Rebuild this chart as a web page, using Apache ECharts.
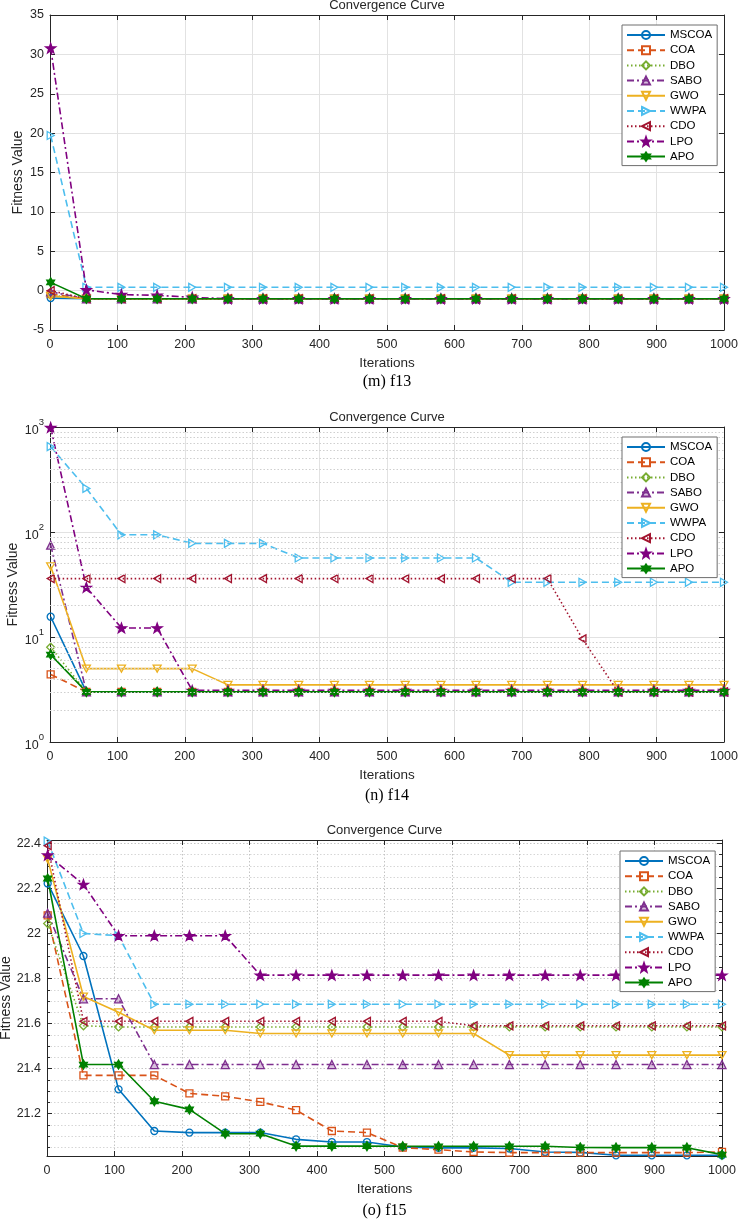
<!DOCTYPE html>
<html>
<head>
<meta charset="utf-8">
<title>Convergence Curve</title>
<script src="https://cdn.jsdelivr.net/npm/echarts@6/dist/echarts.min.js"></script>
<style>
    html, body { margin: 0; padding: 0; background: #fff; }
    #chart { width: 738px; height: 1221px; }
</style>
</head>
<body>
<div id="chart"></div>
<script>
// iteration numbers where the curves are sampled (markers)
const iterations = [1, 54, 106, 159, 211, 264, 316, 369, 422, 474, 527, 580, 632, 685, 738, 790, 843, 896, 948, 1000];
const algorithms = ['MSCOA', 'COA', 'DBO', 'SABO', 'GWO', 'WWPA', 'CDO', 'LPO', 'APO'];

// (m) f13
const f13MSCOA = [-0.95, -1.03, -1.03, -1.03, -1.03, -1.03, -1.03, -1.03, -1.03, -1.03, -1.03, -1.03, -1.03, -1.03, -1.03, -1.03, -1.03, -1.03, -1.03, -1.03];
const f13COA = [-0.45, -1.03, -1.03, -1.03, -1.03, -1.03, -1.03, -1.03, -1.03, -1.03, -1.03, -1.03, -1.03, -1.03, -1.03, -1.03, -1.03, -1.03, -1.03, -1.03];
const f13DBO = [-0.6, -1.03, -1.03, -1.03, -1.03, -1.03, -1.03, -1.03, -1.03, -1.03, -1.03, -1.03, -1.03, -1.03, -1.03, -1.03, -1.03, -1.03, -1.03, -1.03];
const f13SABO = [-0.15, -1.03, -1.03, -1.03, -1.03, -1.03, -1.03, -1.03, -1.03, -1.03, -1.03, -1.03, -1.03, -1.03, -1.03, -1.03, -1.03, -1.03, -1.03, -1.03];
const f13GWO = [-0.7, -1.03, -1.03, -1.03, -1.03, -1.03, -1.03, -1.03, -1.03, -1.03, -1.03, -1.03, -1.03, -1.03, -1.03, -1.03, -1.03, -1.03, -1.03, -1.03];
const f13WWPA = [19.7, 0.42, 0.42, 0.42, 0.42, 0.42, 0.42, 0.42, 0.42, 0.42, 0.42, 0.42, 0.42, 0.42, 0.42, 0.42, 0.42, 0.42, 0.42, 0.42];
const f13CDO = [0.0, -1.03, -1.03, -1.03, -1.03, -1.03, -1.03, -1.03, -1.03, -1.03, -1.03, -1.03, -1.03, -1.03, -1.03, -1.03, -1.03, -1.03, -1.03, -1.03];
const f13LPO = [30.8, 0.1, -0.5, -0.6, -0.85, -1.03, -1.03, -1.03, -1.03, -1.03, -1.03, -1.03, -1.03, -1.03, -1.03, -1.03, -1.03, -1.03, -1.03, -1.03];
const f13APO = [1.05, -1.03, -1.03, -1.03, -1.03, -1.03, -1.03, -1.03, -1.03, -1.03, -1.03, -1.03, -1.03, -1.03, -1.03, -1.03, -1.03, -1.03, -1.03, -1.03];

// (n) f14 (log axis)
const f14MSCOA = [15.6, 3, 3, 3, 3, 3, 3, 3, 3, 3, 3, 3, 3, 3, 3, 3, 3, 3, 3, 3];
const f14COA = [4.4, 3, 3, 3, 3, 3, 3, 3, 3, 3, 3, 3, 3, 3, 3, 3, 3, 3, 3, 3];
const f14DBO = [8.0, 3, 3, 3, 3, 3, 3, 3, 3, 3, 3, 3, 3, 3, 3, 3, 3, 3, 3, 3];
const f14SABO = [75, 3, 3, 3, 3, 3, 3, 3, 3, 3, 3, 3, 3, 3, 3, 3, 3, 3, 3, 3];
const f14GWO = [47, 5.0, 5.0, 5.0, 5.0, 3.5, 3.5, 3.5, 3.5, 3.5, 3.5, 3.5, 3.5, 3.5, 3.5, 3.5, 3.5, 3.5, 3.5, 3.5];
const f14WWPA = [650, 260, 94, 94, 78, 78, 78, 56.6, 56.6, 56.6, 56.6, 56.6, 56.6, 33.2, 33.2, 33.2, 33.2, 33.2, 33.2, 33.2];
const f14CDO = [36, 36, 36, 36, 36, 36, 36, 36, 36, 36, 36, 36, 36, 36, 36, 9.6, 3, 3, 3, 3];
const f14LPO = [990, 29.7, 12.2, 12.2, 3.1, 3.1, 3.1, 3.1, 3.1, 3.1, 3.1, 3.1, 3.1, 3.1, 3.1, 3.1, 3.1, 3.1, 3.1, 3.1];
const f14APO = [6.8, 3, 3, 3, 3, 3, 3, 3, 3, 3, 3, 3, 3, 3, 3, 3, 3, 3, 3, 3];
const f14TickExponents = ['0', '1', '2', '3'];
const f14MinorGrid = [2, 3, 4, 5, 6, 7, 8, 9, 20, 30, 40, 50, 60, 70, 80, 90, 200, 300, 400, 500, 600, 700, 800, 900];

// (o) f15
const f15MSCOA = [22.222, 21.9, 21.308, 21.123, 21.116, 21.116, 21.116, 21.086, 21.074, 21.074, 21.052, 21.048, 21.048, 21.045, 21.03, 21.028, 21.015, 21.015, 21.015, 21.015];
const f15COA = [22.08, 21.37, 21.37, 21.37, 21.29, 21.277, 21.252, 21.216, 21.123, 21.116, 21.049, 21.04, 21.03, 21.027, 21.027, 21.027, 21.027, 21.027, 21.027, 21.03];
const f15DBO = [22.044, 21.59, 21.585, 21.585, 21.585, 21.585, 21.585, 21.585, 21.585, 21.585, 21.585, 21.585, 21.585, 21.585, 21.585, 21.585, 21.585, 21.585, 21.585, 21.585];
const f15SABO = [22.09, 21.71, 21.71, 21.418, 21.418, 21.418, 21.418, 21.418, 21.418, 21.418, 21.418, 21.418, 21.418, 21.418, 21.418, 21.418, 21.418, 21.418, 21.418, 21.418];
const f15GWO = [22.33, 21.72, 21.65, 21.57, 21.57, 21.57, 21.556, 21.556, 21.556, 21.556, 21.556, 21.556, 21.556, 21.46, 21.46, 21.46, 21.46, 21.46, 21.46, 21.46];
const f15WWPA = [22.41, 22.0, 21.99, 21.686, 21.686, 21.686, 21.686, 21.686, 21.686, 21.686, 21.686, 21.686, 21.686, 21.686, 21.686, 21.686, 21.686, 21.686, 21.686, 21.686];
const f15CDO = [22.39, 21.61, 21.61, 21.61, 21.61, 21.61, 21.61, 21.61, 21.61, 21.61, 21.61, 21.61, 21.59, 21.59, 21.59, 21.59, 21.59, 21.59, 21.59, 21.59];
const f15LPO = [22.348, 22.218, 21.99, 21.99, 21.99, 21.99, 21.815, 21.815, 21.815, 21.815, 21.815, 21.815, 21.815, 21.815, 21.815, 21.815, 21.815, 21.815, 21.815, 21.815];
const f15APO = [22.244, 21.418, 21.418, 21.255, 21.219, 21.111, 21.111, 21.056, 21.056, 21.056, 21.055, 21.055, 21.055, 21.055, 21.055, 21.05, 21.049, 21.049, 21.049, 21.018];

// marker shapes
function starPath(points, inner) {
    let d = '';
    for (let i = 0; i < points * 2; i++) {
        const r = i % 2 ? inner : 1;
        const a = Math.PI * i / points - Math.PI / 2;
        d += (i ? 'L' : 'M') + (r * Math.cos(a)).toFixed(3) + ',' + (r * Math.sin(a)).toFixed(3);
    }
    return 'path://' + d + 'Z';
}
const triDown = 'path://M0,0L10,0L5,8.7Z';
const triRight = 'path://M0,0L8.7,5L0,10Z';
const triLeft = 'path://M8.7,0L0,5L8.7,10Z';

const dashed = [7, 4];
const dotted = [1.5, 2.5];
const dashDot = [7, 3, 2, 3];

const styles = {
    MSCOA: { color: '#0072BD', dash: 'solid', symbol: 'circle', size: 7 },
    COA: { color: '#D95319', dash: dashed, symbol: 'rect', size: 7 },
    DBO: { color: '#77AC30', dash: dotted, symbol: 'diamond', size: 8 },
    SABO: { color: '#7E2F8E', dash: dashDot, symbol: 'triangle', size: 8, fill: 'rgba(126,47,142,0.3)' },
    GWO: { color: '#EDB120', dash: 'solid', symbol: triDown, size: 8 },
    WWPA: { color: '#4DBEEE', dash: dashed, symbol: triRight, size: 8 },
    CDO: { color: '#A2142F', dash: dotted, symbol: triLeft, size: 8 },
    LPO: { color: '#800080', dash: dashDot, symbol: starPath(5, 0.4), size: 10, fill: '#800080' },
    APO: { color: '#008000', dash: 'solid', symbol: starPath(6, 0.58), size: 9, fill: '#008000' }
};

const axisColor = '#262626';
const fontFamily = "'Liberation Sans', Arial, sans-serif";

const panels = [
    {
        caption: '(m) f13', top: 15, height: 315, left: 50, right: 14,
        values: [f13MSCOA, f13COA, f13DBO, f13SABO, f13GWO, f13WWPA, f13CDO, f13LPO, f13APO],
        y: { type: 'value', min: -5, max: 35, interval: 5 },
        gridType: 'solid', nameGap: 25, legendLeft: 622, legendTop: 25
    },
    {
        caption: '(n) f14', top: 427, height: 315, left: 50, right: 14,
        values: [f14MSCOA, f14COA, f14DBO, f14SABO, f14GWO, f14WWPA, f14CDO, f14LPO, f14APO],
        y: { type: 'log', logBase: 10, min: 1, max: 1000 },
        gridType: 'solid', nameGap: 30, legendLeft: 622, legendTop: 437
    },
    {
        caption: '(o) f15', top: 840, height: 316, left: 47, right: 16,
        values: [f15MSCOA, f15COA, f15DBO, f15SABO, f15GWO, f15WWPA, f15CDO, f15LPO, f15APO],
        y: { type: 'value', min: 21.012, max: 22.415, splitNumber: 7 },
        gridType: [1.5, 2], minor: true, nameGap: 34, legendLeft: 620, legendTop: 851
    }
];

const grids = [], xAxes = [], yAxes = [], series = [], legends = [], texts = [];

panels.forEach(function (p, gi) {
    grids.push({
        left: p.left, right: p.right, top: p.top, height: p.height,
        containLabel: false, outerBoundsMode: 'none'
    });

    const gridColor = gi === 2 ? '#c4c4c4' : '#e2e2e2';
    const xBase = {
        gridIndex: gi, type: 'value', min: 0, max: 1000, interval: 100,
        axisLine: { onZero: false, lineStyle: { color: axisColor, width: 1 } },
        axisTick: { inside: true, length: 5, lineStyle: { color: axisColor } }
    };
    xAxes.push(Object.assign({}, xBase, {
        position: 'bottom',
        name: 'Iterations', nameLocation: 'middle', nameGap: 26, nameMoveOverlap: false,
        nameTextStyle: { fontFamily: fontFamily, fontSize: 13.5, color: axisColor },
        axisLabel: {
            color: axisColor, fontFamily: fontFamily, fontSize: 12.5, margin: 8,
            formatter: function (v) { return String(v); }
        },
        splitLine: { show: true, lineStyle: { color: gridColor, width: 1, type: p.gridType } }
    }));
    xAxes.push(Object.assign({}, xBase, {
        position: 'top', axisLabel: { show: false }, splitLine: { show: false }
    }));

    const yBase = Object.assign({
        gridIndex: gi,
        axisLine: { show: true, onZero: false, lineStyle: { color: axisColor, width: 1 } },
        axisTick: { show: true, inside: true, length: 5, lineStyle: { color: axisColor } }
    }, p.y);
    if (p.minor) {
        yBase.minorTick = { show: true, splitNumber: 4, length: 3, lineStyle: { color: axisColor } };
    }

    let labelFormatter = function (v) { return String(v); };
    let rich = undefined;
    if (p.y.type === 'log') {
        labelFormatter = function (v) {
            return '{b|10}{s|' + f14TickExponents[Math.round(Math.log10(v))] + '}';
        };
        rich = {
            b: { fontSize: 12.5, fontFamily: fontFamily, color: axisColor, lineHeight: 20, verticalAlign: 'bottom' },
            s: { fontSize: 9.5, fontFamily: fontFamily, color: axisColor, lineHeight: 12, verticalAlign: 'top' }
        };
    } else if (p.minor) {
        labelFormatter = function (v) {
            return Math.abs(v * 5 - Math.round(v * 5)) < 1e-6 ? String(+v.toFixed(1)) : '';
        };
    }

    yAxes.push(Object.assign({}, yBase, {
        position: 'left',
        name: 'Fitness Value', nameLocation: 'middle', nameGap: p.nameGap, nameMoveOverlap: false,
        nameTextStyle: { fontFamily: fontFamily, fontSize: 14, color: axisColor },
        axisLabel: { color: axisColor, fontFamily: fontFamily, fontSize: 12.5, margin: 6, formatter: labelFormatter, rich: rich },
        splitLine: { show: true, lineStyle: { color: gridColor, width: 1, type: p.gridType } },
        minorSplitLine: { show: !!p.minor, lineStyle: { color: '#d6d6d6', width: 1, type: [1.5, 2] } }
    }));
    yAxes.push(Object.assign({}, yBase, {
        position: 'right', axisLabel: { show: false }, splitLine: { show: false }
    }));

    // minor decade grid for the log panel
    if (p.y.type === 'log') {
        series.push({
            name: 'minor', type: 'line', xAxisIndex: gi * 2, yAxisIndex: gi * 2, data: [],
            silent: true, z: 1,
            markLine: {
                silent: true, symbol: 'none', animation: false,
                label: { show: false },
                lineStyle: { color: '#cfcfcf', width: 1, type: [1.5, 2] },
                emphasis: { disabled: true },
                data: f14MinorGrid.map(function (v) { return { yAxis: v }; })
            }
        });
    }

    algorithms.forEach(function (name, k) {
        const s = styles[name];
        const vals = p.values[k];
        series.push({
            name: name, type: 'line', xAxisIndex: gi * 2, yAxisIndex: gi * 2,
            data: iterations.map(function (x, i) { return [x, vals[i]]; }),
            symbol: s.symbol, symbolSize: s.size, symbolKeepAspect: true, showAllSymbol: true,
            clip: false, z: 3,
            lineStyle: { color: s.color, width: 1.6, type: s.dash },
            itemStyle: { color: s.fill || 'rgba(255,255,255,0)', borderColor: s.color, borderWidth: 1.3 },
            emphasis: { disabled: true }
        });
    });

    legends.push({
        data: algorithms, orient: 'vertical', left: p.legendLeft, top: p.legendTop,
        itemWidth: 38, itemHeight: 10, itemGap: 3.2, padding: [4, 5, 3, 4],
        backgroundColor: '#fff', borderColor: '#6e6e6e', borderWidth: 1,
        selectedMode: false, z: 10,
        textStyle: { fontFamily: fontFamily, fontSize: 11.5, color: '#000' }
    });

    const cx = p.left + (738 - p.left - p.right) / 2;
    texts.push({
        type: 'text', x: cx, y: p.top - 10, z: 20,
        style: { text: 'Convergence Curve', font: '13px ' + fontFamily, fill: axisColor,
            align: 'center', verticalAlign: 'middle', textAlign: 'center', textVerticalAlign: 'middle' }
    });
    texts.push({
        type: 'text', x: cx, y: p.top + p.height + 52 + gi * 1.5, z: 20,
        style: { text: p.caption, font: "16px 'Liberation Serif', 'Times New Roman', serif", fill: '#000',
            align: 'center', verticalAlign: 'middle', textAlign: 'center', textVerticalAlign: 'middle' }
    });
});

const myChart = echarts.init(document.getElementById('chart'));
myChart.setOption({
    animation: false,
    backgroundColor: '#fff',
    grid: grids,
    xAxis: xAxes,
    yAxis: yAxes,
    legend: legends,
    graphic: texts,
    series: series
});
window.addEventListener('resize', function () {
    myChart.resize();
});
</script>
</body>
</html>
